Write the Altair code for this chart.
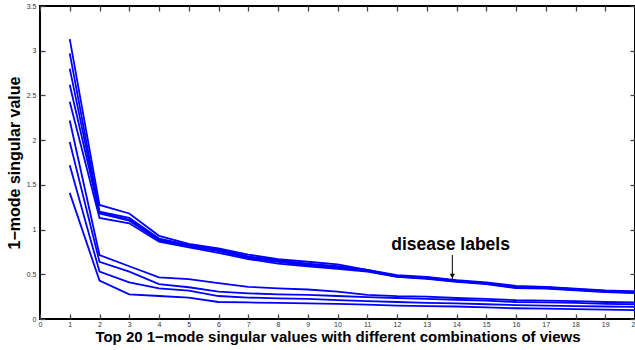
import altair as alt
import pandas as pd

ranks = list(range(1, 21))

# upper group (views including disease labels)
u1 = [3.13, 1.275, 1.18, 0.93, 0.84, 0.79, 0.72, 0.67, 0.64, 0.61, 0.55, 0.49, 0.47, 0.435, 0.41, 0.37, 0.36, 0.34, 0.32, 0.31]
u2 = [2.97, 1.20, 1.13, 0.90, 0.83, 0.78, 0.70, 0.66, 0.62, 0.59, 0.55, 0.48, 0.465, 0.43, 0.40, 0.36, 0.355, 0.335, 0.315, 0.305]
u3 = [2.80, 1.19, 1.11, 0.89, 0.82, 0.77, 0.69, 0.65, 0.61, 0.58, 0.54, 0.48, 0.46, 0.425, 0.40, 0.355, 0.35, 0.33, 0.31, 0.30]
u4 = [2.62, 1.18, 1.10, 0.88, 0.81, 0.76, 0.68, 0.64, 0.60, 0.575, 0.54, 0.475, 0.455, 0.42, 0.395, 0.35, 0.345, 0.325, 0.305, 0.295]
u5 = [2.43, 1.13, 1.07, 0.865, 0.80, 0.74, 0.67, 0.62, 0.59, 0.56, 0.53, 0.47, 0.45, 0.415, 0.39, 0.345, 0.34, 0.32, 0.30, 0.29]
# lower group
l1 = [2.22, 0.716, 0.59, 0.466, 0.447, 0.40, 0.36, 0.343, 0.33, 0.305, 0.27, 0.255, 0.25, 0.235, 0.225, 0.21, 0.205, 0.20, 0.19, 0.185]
l2 = [1.98, 0.64, 0.53, 0.39, 0.355, 0.305, 0.287, 0.276, 0.27, 0.257, 0.245, 0.235, 0.225, 0.215, 0.205, 0.19, 0.185, 0.18, 0.17, 0.165]
l3 = [1.72, 0.53, 0.41, 0.343, 0.317, 0.257, 0.24, 0.23, 0.225, 0.21, 0.20, 0.19, 0.18, 0.175, 0.165, 0.155, 0.15, 0.145, 0.14, 0.135]
l4 = [1.41, 0.43, 0.276, 0.257, 0.24, 0.19, 0.185, 0.18, 0.175, 0.17, 0.16, 0.15, 0.145, 0.14, 0.13, 0.12, 0.115, 0.11, 0.105, 0.10]

series_names = ["u1", "u2", "u3", "u4", "u5", "l1", "l2", "l3", "l4"]
series_values = [u1, u2, u3, u4, u5, l1, l2, l3, l4]

x_ticks = list(range(0, 21))
y_ticks = [0, 0.5, 1, 1.5, 2, 2.5, 3, 3.5]

annot_text = ["disease labels"]
annot_x = [13.8]
annot_y = [0.83]
arrow_x = [13.86]
arrow_y_start = [0.716]
arrow_y_end = [0.447]

rows = []
for name, vals in zip(series_names, series_values):
    for r, v in zip(ranks, vals):
        rows.append({"series": name, "rank": r, "value": v})
df = pd.DataFrame(rows)

ann_df = pd.DataFrame({"text": annot_text, "x": annot_x, "y": annot_y})
arr_df = pd.DataFrame({"x": arrow_x, "y": arrow_y_start, "y2": arrow_y_end})

x_scale = alt.Scale(domain=[0, 20], nice=False, zero=False)
y_scale = alt.Scale(domain=[0, 3.5], nice=False)

FONT = "Liberation Sans"

x_axis = alt.Axis(
    values=x_ticks, format="d", title="Top 20 1\u2212mode singular values with different combinations of views",
    offset=-5, domain=False, tickSize=5, tickWidth=1.3, tickColor="#444",
    labelFont=FONT, labelFontSize=7, labelColor="#333", labelPadding=1, labelFlush=False,
    titleFont=FONT, titleFontSize=15, titleFontWeight="bold", titleColor="black", titlePadding=2,
    grid=False,
)
y_axis = alt.Axis(
    values=y_ticks, format="~g", title="1\u2212mode singular value",
    offset=-5, domain=False, tickSize=5, tickWidth=1.3, tickColor="#444",
    labelFont=FONT, labelFontSize=7, labelColor="#333", labelPadding=4, labelFlush=False,
    titleFont=FONT, titleFontSize=16, titleFontWeight="bold", titleColor="black", titlePadding=4,
    grid=False,
)

lines = alt.Chart(df).mark_line(color="#0000ff", strokeWidth=1.8).encode(
    x=alt.X("rank:Q", scale=x_scale, axis=x_axis),
    y=alt.Y("value:Q", scale=y_scale, axis=y_axis),
    detail="series:N",
)

frame_axes = alt.Chart(df).mark_line(opacity=0).encode(
    x=alt.X("rank:Q", scale=x_scale, axis=alt.Axis(
        orient="top", values=x_ticks, labels=False, title=None, offset=-5, domain=False,
        tickSize=5, tickWidth=1.3, tickColor="#444", grid=False)),
    y=alt.Y("value:Q", scale=y_scale, axis=alt.Axis(
        orient="right", values=y_ticks, labels=False, title=None, offset=-5, domain=False,
        tickSize=5, tickWidth=1.3, tickColor="#444", grid=False)),
    detail="series:N",
)

arrow_line = alt.Chart(arr_df).mark_rule(color="black", strokeWidth=1).encode(
    x=alt.X("x:Q", scale=x_scale, axis=None),
    y=alt.Y("y:Q", scale=y_scale, axis=None),
    y2="y2:Q",
)
arrow_head = alt.Chart(arr_df).mark_point(
    shape="triangle-down", filled=True, color="black", size=28, opacity=1, yOffset=-3
).encode(
    x=alt.X("x:Q", scale=x_scale, axis=None),
    y=alt.Y("y2:Q", scale=y_scale, axis=None),
)

label = alt.Chart(ann_df).mark_text(
    font=FONT, fontSize=17.5, fontWeight="bold", color="black", align="center", baseline="middle"
).encode(
    x=alt.X("x:Q", scale=x_scale, axis=None),
    y=alt.Y("y:Q", scale=y_scale, axis=None),
    text="text:N",
)

chart = alt.layer(lines, frame_axes, arrow_line, arrow_head, label).resolve_axis(
    x="independent", y="independent"
).properties(
    width=595, height=313,
    autosize=alt.AutoSizeParams(type="none"),
    padding={"left": 40, "top": 6, "right": 0, "bottom": 31},
    background="white",
).configure_view(
    stroke="black", strokeWidth=2
)

chart.save("out.html", embed_options={"renderer": "svg", "actions": False})
